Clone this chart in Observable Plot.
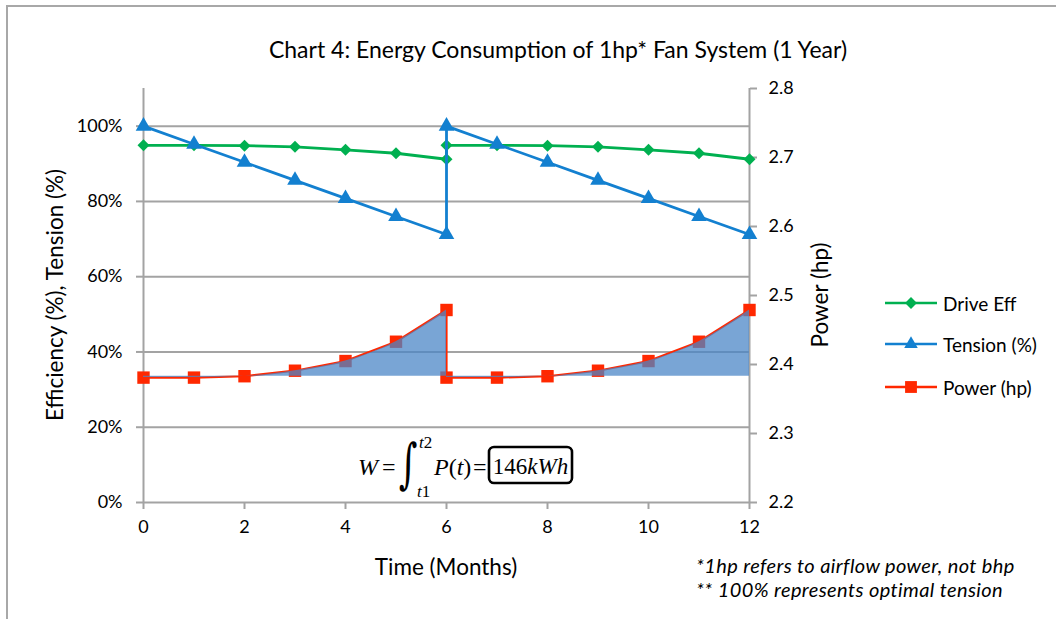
<!DOCTYPE html>
<html><head><meta charset="utf-8">
<script src="https://cdn.jsdelivr.net/npm/d3@7"></script>
<script src="https://cdn.jsdelivr.net/npm/@observablehq/plot@0.6"></script>
<style>
body{margin:0;background:#fff;font-family:Lato,"Open Sans",sans-serif;color:#000;}
#wrap{position:relative;width:1056px;height:619px;overflow:hidden;background:#fff;}
#frame{position:absolute;left:6px;top:5px;width:1100px;height:640px;border-left:2px solid #a8a8a8;border-top:2px solid #a8a8a8;}
#title{position:absolute;top:35px;left:0;width:1116px;text-align:center;font-size:23px;white-space:nowrap;}
#chart{position:absolute;left:0;top:0;}
.leg{position:absolute;left:885px;height:20px;display:flex;align-items:center;font-size:19px;white-space:nowrap;}
.leg svg{margin-right:6px;}
.note{position:absolute;left:696px;font-size:20px;letter-spacing:0.4px;font-style:italic;white-space:nowrap;}
</style></head>
<body><div id="wrap"><div id="frame"></div><div id="chart"></div><div id="title"></div><div id="legend"></div><div id="notes"></div></div>
<script>
// ---- data ----
const months    = [0, 1, 2, 3, 4, 5, 6, 6, 7, 8, 9, 10, 11, 12];
const driveEff  = [0.949, 0.949, 0.948, 0.945, 0.937, 0.928, 0.912, 0.949, 0.949, 0.948, 0.945, 0.937, 0.928, 0.912];
const tension   = [1.000, 0.952, 0.904, 0.856, 0.808, 0.760, 0.712, 1.000, 0.952, 0.904, 0.856, 0.808, 0.760, 0.712];
const powerHp   = [2.381, 2.381, 2.383, 2.391, 2.405, 2.433, 2.479, 2.381, 2.381, 2.383, 2.391, 2.405, 2.433, 2.479];
const segment   = [0, 0, 0, 0, 0, 0, 0, 1, 1, 1, 1, 1, 1, 1];
const energyBaseHp = 2.383;
const leftTicks  = [0, 0.2, 0.4, 0.6, 0.8, 1.0];
const rightTicks = [2.2, 2.3, 2.4, 2.5, 2.6, 2.7, 2.8];
const xTicks     = [0, 2, 4, 6, 8, 10, 12];
const seriesNames = ["Drive Eff", "Tension (%)", "Power (hp)"];
const titleText = "Chart 4: Energy Consumption of 1hp* Fan System (1 Year)";
const notes = ["*1hp refers to airflow power, not bhp", "** 100% represents optimal tension"];
const energyText = "146kWh";

// ---- styles ----
const green = "#00B050", blue = "#1380D0", red = "#FF2800", grid = "#A3A3A3";
const pMin = 2.2, pMax = 2.8, lMax = 1.1;
const toLeft = p => (p - pMin) / (pMax - pMin) * lMax;
const fromLeft = v => pMin + v / lMax * (pMax - pMin);

const rows = months.map((m, i) => ({m, eff: driveEff[i], ten: tension[i], pw: toLeft(powerHp[i]), seg: segment[i]}));

const chart = Plot.plot({
  width: 1056, height: 619,
  marginLeft: 143, marginRight: 307, marginTop: 88, marginBottom: 117,
  x: {domain: [0, 12]},
  y: {domain: [0, lMax]},
  style: {fontFamily: "Lato, 'Open Sans', sans-serif", fontSize: "18px", color: "#000", background: "transparent"},
  marks: [
    Plot.gridY(leftTicks.slice(1), {stroke: grid, strokeOpacity: 1, strokeWidth: 2}),
    Plot.ruleY([0], {stroke: grid, strokeWidth: 2}),
    Plot.ruleX([0], {stroke: grid, strokeWidth: 2}),
    Plot.ruleX([12], {stroke: grid, strokeWidth: 2}),
    Plot.axisY(leftTicks, {anchor: "left", tickFormat: d => Math.round(d * 100) + "%", tickSize: 7, tickPadding: 14, stroke: grid, strokeWidth: 2, label: null}),
    Plot.axisY(rightTicks.map(toLeft), {anchor: "right", tickFormat: d => fromLeft(d).toFixed(1), tickSize: 7, tickPadding: 12, stroke: grid, strokeWidth: 2, label: null}),
    Plot.axisX(xTicks, {tickSize: 7, tickPadding: 11, stroke: grid, strokeWidth: 2, label: null}),
    Plot.line(rows, {x: "m", y: "eff", stroke: green, strokeWidth: 2.8}),
    Plot.dot(rows, {x: "m", y: "eff", symbol: "diamond2", fill: green, r: 5.4}),
    Plot.line(rows, {x: "m", y: "ten", stroke: blue, strokeWidth: 2.8}),
    Plot.dot(rows, {x: "m", y: "ten", symbol: "triangle", fill: blue, r: 5.8}),
    Plot.line(rows, {x: "m", y: "pw", stroke: red, strokeWidth: 2.2}),
    Plot.dot(rows, {x: "m", y: "pw", symbol: "square", fill: red, r: 7}),
    Plot.areaY(rows, {x: "m", y1: () => toLeft(energyBaseHp), y2: "pw", z: "seg", fill: "#4A86C6", fillOpacity: 0.74, curve: "monotone-x"})
  ]
});
document.getElementById("chart").appendChild(chart);

const svg = d3.select(chart);
const xs = chart.scale("x"), ys = chart.scale("y");
const midY = (ys.apply(0) + ys.apply(lMax)) / 2;
// axis titles
svg.append("text").attr("transform", `translate(57,${midY}) rotate(-90)`)
  .attr("text-anchor", "middle").attr("dominant-baseline", "middle").attr("font-size", 22.5).text("Efficiency (%), Tension (%)");
svg.append("text").attr("transform", `translate(822,${midY}) rotate(-90)`)
  .attr("text-anchor", "middle").attr("dominant-baseline", "middle").attr("font-size", 22.5).text("Power (hp)");
svg.append("text").attr("x", (xs.apply(0) + xs.apply(12)) / 2).attr("y", 575)
  .attr("text-anchor", "middle").attr("font-size", 22.5).text("Time (Months)");

// formula annotation
const ox = xs.apply(6), oy = ys.apply(0);
const g = svg.append("g").attr("transform", `translate(${ox},${oy})`)
  .attr("font-family", "'Liberation Serif', 'DejaVu Serif', serif").attr("text-anchor", "start");
g.append("text").attr("x", -88).attr("y", -27).attr("font-size", 24).attr("font-style", "italic").text("W");
g.append("text").attr("x", -64).attr("y", -27).attr("font-size", 24).text("=");
g.append("text").attr("transform", "translate(-47,-20) scale(0.66,1)").attr("font-size", 54)
  .attr("font-family", "'DejaVu Serif', serif").attr("font-style", "italic").text("∫");
g.append("text").attr("x", -27).attr("y", -54).attr("font-size", 17).html('<tspan font-style="italic">t</tspan>2');
g.append("text").attr("x", -29).attr("y", -5).attr("font-size", 17).html('<tspan font-style="italic">t</tspan>1');
g.append("text").attr("x", -12).attr("y", -27).attr("font-size", 24).html('<tspan font-style="italic">P</tspan>(<tspan font-style="italic">t</tspan>)');
g.append("text").attr("x", 27).attr("y", -27).attr("font-size", 24).text("=");
g.append("rect").attr("x", 43).attr("y", -55).attr("width", 83).attr("height", 36).attr("rx", 5)
  .attr("fill", "#fff").attr("stroke", "#000").attr("stroke-width", 2.6);
g.append("text").attr("x", 84.5).attr("y", -28).attr("font-size", 23).attr("text-anchor", "middle")
  .html(`<tspan>${energyText.slice(0, 3)}</tspan><tspan font-style="italic">${energyText.slice(3)}</tspan>`);

// title
document.getElementById("title").textContent = titleText;

// legend
const legColors = [green, blue, red];
const legSymbols = [d3.symbolDiamond2, d3.symbolTriangle, d3.symbolSquare];
const legSizes = [90, 80, 140];
const legTops = [293, 334, 377];
const legend = document.getElementById("legend");
seriesNames.forEach((name, i) => {
  const div = document.createElement("div");
  div.className = "leg"; div.style.top = legTops[i] + "px";
  const sym = d3.symbol(legSymbols[i], legSizes[i])();
  div.innerHTML = `<svg width="52" height="20"><line x1="0" x2="52" y1="10" y2="10" stroke="${legColors[i]}" stroke-width="2.6"/><path transform="translate(26,10)" d="${sym}" fill="${legColors[i]}"/></svg><span>${name}</span>`;
  legend.appendChild(div);
});
// notes
const nd = document.getElementById("notes");
notes.forEach((t, i) => {
  const d = document.createElement("div"); d.className = "note"; d.style.top = (553 + i * 24) + "px"; d.textContent = t; nd.appendChild(d);
});
</script></body></html>
